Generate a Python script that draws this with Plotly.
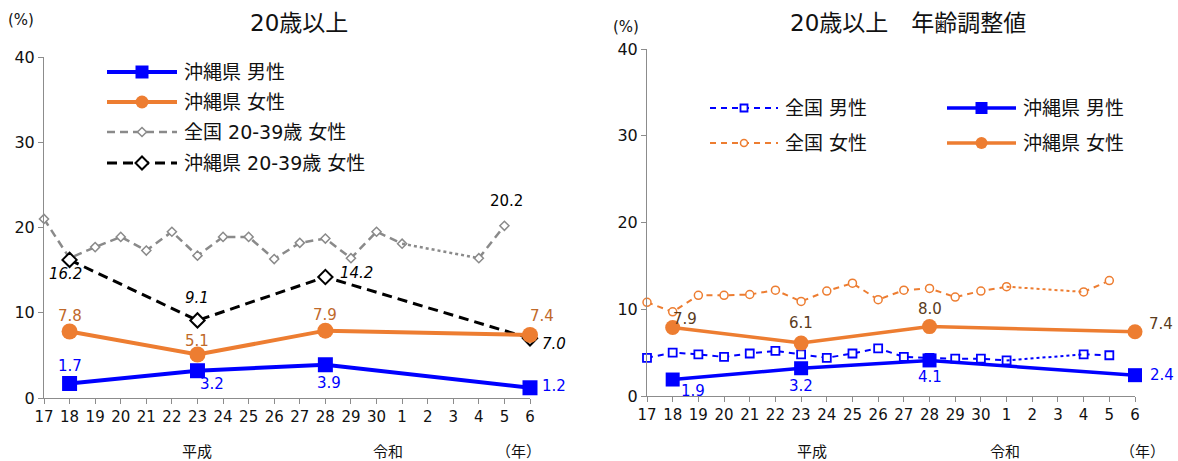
import plotly.graph_objects as go

W, H = 1178, 461
FONT = "DejaVu Sans, Noto Sans CJK JP, sans-serif"

# ---- data -------------------------------------------------------------
# 平成17年 … 平成30年, 令和元年 … 令和6年
years = ["17", "18", "19", "20", "21", "22", "23", "24", "25", "26",
         "27", "28", "29", "30", "1", "2", "3", "4", "5", "6"]

# 20歳以上 (%)
nat_female_2039 = [21.0, 16.4, 17.7, 18.9, 17.3, 19.5, 16.7, 18.9, 18.9, 16.3,
                   18.2, 18.7, 16.4, 19.5, 18.1, None, None, 16.4, 20.2, None]
oki_years = ["18", "23", "28", "6"]
oki_male = [1.7, 3.2, 3.9, 1.2]
oki_female = [7.8, 5.1, 7.9, 7.4]
oki_female_2039 = [16.2, 9.1, 14.2, 7.0]

# 20歳以上 年齢調整値 (%)
nat_male_adj = [4.4, 5.0, 4.8, 4.5, 4.9, 5.2, 4.8, 4.4, 4.9, 5.5,
                4.5, 4.4, 4.3, 4.3, 4.1, None, None, 4.8, 4.7, None]
nat_female_adj = [10.8, 9.7, 11.6, 11.6, 11.7, 12.2, 10.9, 12.1, 13.0, 11.1,
                  12.2, 12.4, 11.4, 12.1, 12.6, None, None, 12.0, 13.3, None]
oki_male_adj = [1.9, 3.2, 4.1, 2.4]
oki_female_adj = [7.9, 6.1, 8.0, 7.4]

y_ticks = [0, 10, 20, 30, 40]

# ---- colours ----------------------------------------------------------
BLUE = "#0000FF"
ORANGE = "#ED7D31"
GREY = "#8A8A8A"
BLACK = "#000000"
AXIS = "#8C8C8C"
ORANGE_TXT_L = "#C0692A"
ORANGE_TXT_R = "#5A3B1C"

fig = go.Figure()


def dom_x(p0, p1):
    return [p0 / W, p1 / W]


def dom_y(top, bottom):
    return [(H - bottom) / H, (H - top) / H]


def gap_bridges(values):
    """Pairs of indices that span a run of missing values."""
    pairs, last = [], None
    for i, v in enumerate(values):
        if v is None:
            continue
        if last is not None and i - last > 1:
            pairs.append((last, i))
        last = i
    return pairs


def national_series(values, xa, ya, color, width, dash, symbol, size, mline):
    fig.add_trace(go.Scatter(
        x=years, y=values, xaxis=xa, yaxis=ya, mode="lines+markers",
        connectgaps=False, cliponaxis=False,
        line=dict(color=color, width=width, dash=dash),
        marker=dict(symbol=symbol, size=size, color="white",
                    line=dict(color=color, width=mline))))
    for a, b in gap_bridges(values):
        fig.add_trace(go.Scatter(
            x=[years[a], years[b]], y=[values[a], values[b]], xaxis=xa, yaxis=ya,
            mode="lines", cliponaxis=False,
            line=dict(color=color, width=width, dash="dot")))


def okinawa_series(values, xa, ya, color, width, dash, marker):
    fig.add_trace(go.Scatter(
        x=oki_years, y=values, xaxis=xa, yaxis=ya, mode="lines+markers",
        cliponaxis=False, line=dict(color=color, width=width, dash=dash),
        marker=marker))


# ---- left panel: 20歳以上 ------------------------------------------------
national_series(nat_female_2039, "x", "y", GREY, 2.5, "8px,5px",
                "diamond", 7, 1.5)
okinawa_series(oki_female_2039, "x", "y", BLACK, 3, "10px,6px",
               dict(symbol="diamond", size=11, color="white",
                    line=dict(color=BLACK, width=2)))
okinawa_series(oki_female, "x", "y", ORANGE, 4, "solid",
               dict(symbol="circle", size=16, color=ORANGE))
okinawa_series(oki_male, "x", "y", BLUE, 4, "solid",
               dict(symbol="square", size=15, color=BLUE))

# ---- right panel: 年齢調整値 -------------------------------------------
national_series(nat_female_adj, "x2", "y2", ORANGE, 2, "6px,5px",
                "circle", 8, 1.5)
national_series(nat_male_adj, "x2", "y2", BLUE, 2, "6px,5px",
                "square", 8, 1.8)
okinawa_series(oki_female_adj, "x2", "y2", ORANGE, 3.5, "solid",
               dict(symbol="circle", size=15, color=ORANGE))
okinawa_series(oki_male_adj, "x2", "y2", BLUE, 3.5, "solid",
               dict(symbol="square", size=14, color=BLUE))

# ---- value labels --------------------------------------------------------
annotations = []


def value_labels(xref, yref, xs, ys, shifts, color, italic=False, idx=None):
    for k, (xv, yv) in enumerate(zip(xs, ys)):
        if idx is not None and k not in idx:
            continue
        dx, dy = shifts[k]
        annotations.append(dict(
            x=years.index(xv), y=yv, xref=xref, yref=yref, showarrow=False,
            text=f"<i>{yv:.1f}</i>" if italic else f"{yv:.1f}",
            xshift=dx, yshift=dy,
            font=dict(family=FONT, size=15, color=color)))


value_labels("x", "y", oki_years, oki_male,
             [(0, 18), (15, -13), (4, -18), (24, 2)], BLUE)
value_labels("x", "y", oki_years, oki_female,
             [(0, 16), (0, 14), (0, 16), (12, 19)], ORANGE_TXT_L)
value_labels("x", "y", oki_years, oki_female_2039,
             [(-4, -14), (0, 22), (31, 4), (24, -6)], BLACK, italic=True)
value_labels("x", "y", years, nat_female_2039,
             {18: (2, 25)}, BLACK, idx={18})

value_labels("x2", "y2", oki_years, oki_female_adj,
             [(12, 8), (0, 20), (0, 18), (26, 8)], ORANGE_TXT_R)
value_labels("x2", "y2", oki_years, oki_male_adj,
             [(20, -11), (0, -18), (0, -17), (27, 0)], BLUE)

# ---- hand-laid legends (drawn on a full-figure pixel overlay) -----------
def legend_item(x0, x1, y, text, color, width, dash, marker):
    fig.add_trace(go.Scatter(
        x=[x0, x1], y=[y, y], xaxis="x3", yaxis="y3", mode="lines",
        cliponaxis=False, line=dict(color=color, width=width, dash=dash)))
    fig.add_trace(go.Scatter(
        x=[(x0 + x1) / 2], y=[y], xaxis="x3", yaxis="y3", mode="markers",
        cliponaxis=False, marker=marker))
    annotations.append(dict(
        x=(x1 + 5) / W, y=(H - y) / H, xref="paper", yref="paper",
        xanchor="left", yanchor="middle", showarrow=False, text=text,
        font=dict(family=FONT, size=19, color="#111111")))


legend_item(107, 177, 72, "沖縄県 男性", BLUE, 4, "solid",
            dict(symbol="square", size=13, color=BLUE))
legend_item(107, 177, 102, "沖縄県 女性", ORANGE, 4, "solid",
            dict(symbol="circle", size=13, color=ORANGE))
legend_item(107, 177, 132, "全国 20-39歳 女性", GREY, 2.5, "8px,5px",
            dict(symbol="diamond", size=7, color="white",
                 line=dict(color=GREY, width=1.5)))
legend_item(107, 177, 163, "沖縄県 20-39歳 女性", BLACK, 3, "10px,6px",
            dict(symbol="diamond", size=10, color="white",
                 line=dict(color=BLACK, width=2)))

legend_item(710, 778, 108, "全国 男性", BLUE, 2, "6px,5px",
            dict(symbol="square", size=7, color="white",
                 line=dict(color=BLUE, width=1.8)))
legend_item(710, 778, 143, "全国 女性", ORANGE, 2, "6px,5px",
            dict(symbol="circle", size=7, color="white",
                 line=dict(color=ORANGE, width=1.5)))
legend_item(947, 1016, 108, "沖縄県 男性", BLUE, 3.5, "solid",
            dict(symbol="square", size=12, color=BLUE))
legend_item(947, 1016, 143, "沖縄県 女性", ORANGE, 3.5, "solid",
            dict(symbol="circle", size=12, color=ORANGE))

# ---- titles, units, era labels ----------------------------------------
def text_at(px, py, text, size):
    annotations.append(dict(
        x=px / W, y=(H - py) / H, xref="paper", yref="paper",
        xanchor="center", yanchor="middle", showarrow=False, text=text,
        font=dict(family=FONT, size=size, color="#111111")))


text_at(299, 23, "20歳以上", 23)
text_at(908, 23, "20歳以上　年齢調整値", 23)
text_at(21, 20, "(%)", 15)
text_at(626, 27, "(%)", 15)
for px, txt in [(197, "平成"), (388, "令和"), (518, "（年）"),
                (812, "平成"), (1005, "令和"), (1142, "（年）")]:
    text_at(px, 452, txt, 15)

# ---- axes ----------------------------------------------------------------
xcommon = dict(type="category", categoryorder="array", categoryarray=years,
               range=[0, len(years) - 1], showline=True, linecolor=AXIS,
               linewidth=1, ticks="outside", ticklen=5, tickcolor=AXIS,
               showgrid=False, zeroline=False, automargin=False,
               tickfont=dict(family=FONT, size=15, color="#111111"))
ycommon = dict(range=[0, 40], tickvals=y_ticks, showline=True, linecolor=AXIS,
               linewidth=1, ticks="outside", ticklen=5, tickcolor=AXIS,
               showgrid=False, zeroline=False, automargin=False,
               tickfont=dict(family=FONT, size=16, color="#111111"))

fig.update_layout(
    width=W, height=H,
    margin=dict(l=0, r=0, t=0, b=0, pad=0, autoexpand=False),
    paper_bgcolor="white", plot_bgcolor="rgba(0,0,0,0)",
    showlegend=False, font=dict(family=FONT),
    xaxis=dict(xcommon, domain=dom_x(44, 530), anchor="y"),
    yaxis=dict(ycommon, domain=dom_y(57, 398), anchor="x"),
    xaxis2=dict(xcommon, domain=dom_x(647, 1135), anchor="y2"),
    yaxis2=dict(ycommon, domain=dom_y(49, 396), anchor="x2"),
    xaxis3=dict(domain=[0, 1], range=[0, W], visible=False, anchor="y3",
                fixedrange=True),
    yaxis3=dict(domain=[0, 1], range=[H, 0], visible=False, anchor="x3",
                fixedrange=True),
    annotations=annotations,
)

fig.write_html("out.html")
